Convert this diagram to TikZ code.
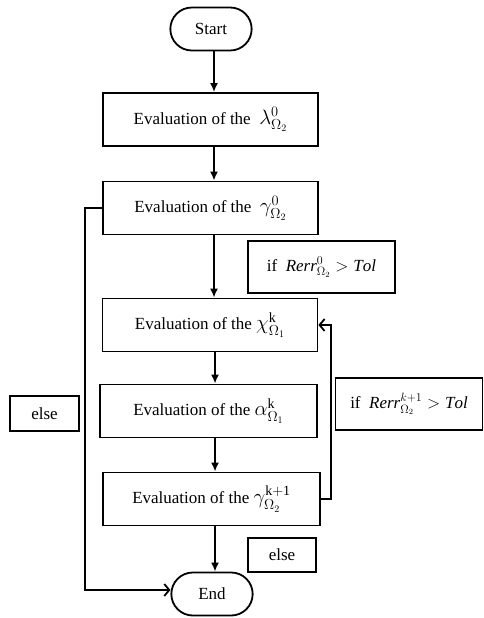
\documentclass[tikz,border=0pt]{standalone}
\usepackage{amsmath}
\usepackage{amssymb}
\usepackage{fontspec}
\setmainfont{Liberation Serif}
\usetikzlibrary{arrows.meta,shapes.misc}
\newcommand{\bigsym}[1]{{\fontsize{20}{22}\selectfont$#1$}}

\begin{document}
\begin{tikzpicture}[x=1pt,y=-1pt,>={Latex[length=9pt,width=8pt]},line width=1.8pt,
    font=\fontsize{17}{19}\selectfont,
    proc/.style={draw,rectangle,minimum width=215pt,minimum height=53pt,inner sep=0pt},
    term/.style={draw,rounded rectangle,minimum width=88pt,minimum height=43pt},
    cond/.style={draw,rectangle,inner sep=0pt},
    back/.style={-{Straight Barb[length=5pt,width=12pt]}}]
  \useasboundingbox (0,0) rectangle (484,618);

  \node[term] (start) at (211,29) {Start};
  \node[proc] (evalLambda) at (210.5,119.5) {Evaluation of the\ \ \bigsym{\lambda^{0}_{\Omega_2}}};
  \node[proc] (evalGamma) at (210.5,208) {Evaluation of the\ \ \bigsym{\gamma^{0}_{\Omega_2}}};
  \node[proc] (evalChi) at (210,325) {Evaluation of the \bigsym{\chi^{\mathrm{k}}_{\Omega_1}}};
  \node[proc,minimum width=217pt] (evalAlpha) at (208.5,411) {Evaluation of the \bigsym{\alpha^{\mathrm{k}}_{\Omega_1}}};
  \node[proc,minimum width=217pt] (evalGammaNext) at (211.5,499) {Evaluation of the \bigsym{\gamma^{\mathrm{k+1}}_{\Omega_2}}};
  \node[term] (stop) at (212,594) {End};

  % conditions
  \node[cond,minimum width=147pt,minimum height=52pt] (condIf) at (321.5,267)
    {if\ \ $\mathit{Rerr}^{0}_{\Omega_2} > \mathit{Tol}$};
  \node[cond,minimum width=147pt,minimum height=52pt] (condIfNext) at (409,404)
    {if\ \ $\mathit{Rerr}^{k+1}_{\Omega_2} > \mathit{Tol}$};
  \node[cond,minimum width=69pt,minimum height=35pt] (elseLeft) at (44.5,413.5) {else};
  \node[cond,minimum width=68pt,minimum height=34pt] (elseDown) at (282,555) {else};

  \draw[->] ([xshift=3pt]start.south) -- ([xshift=3pt]start.south |- evalLambda.north);
  \draw[->] ([xshift=3.5pt]evalLambda.south) -- ([xshift=3.5pt]evalLambda.south |- evalGamma.north);
  \draw[->] ([xshift=3.5pt]evalGamma.south) -- ([xshift=3.5pt]evalGamma.south |- evalChi.north);
  \draw[->] ([xshift=5pt]evalChi.south) -- ([xshift=5pt]evalChi.south |- evalAlpha.north);
  \draw[->] ([xshift=6.5pt]evalAlpha.south) -- ([xshift=6.5pt]evalAlpha.south |- evalGammaNext.north);
  \draw[->] ([xshift=3.5pt]evalGammaNext.south) -- ([xshift=3.5pt]evalGammaNext.south |- stop.north);

  \draw[back] (evalGammaNext.east) -- ++(10,0) |- (evalChi.east);
  \draw[back] (evalGamma.west) -- ++(-17,0) |- ([yshift=4pt]stop.west);
\end{tikzpicture}
\end{document}
